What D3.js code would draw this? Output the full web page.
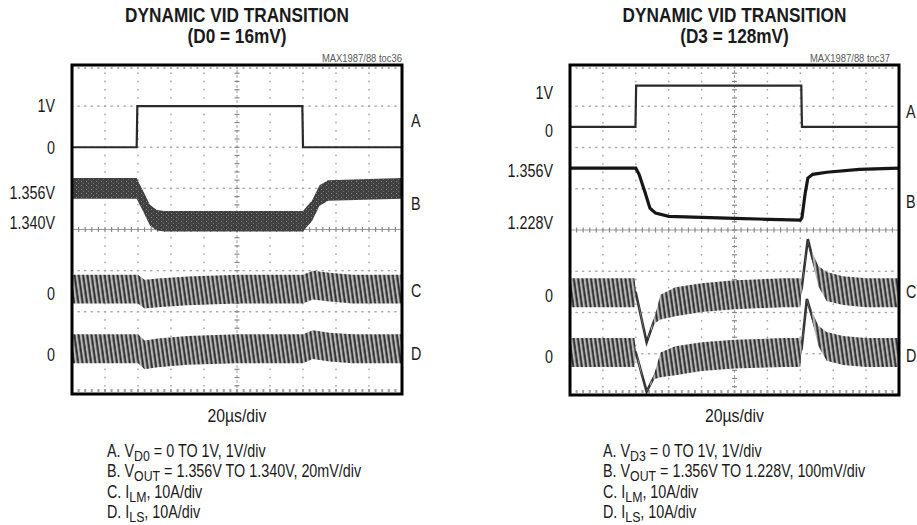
<!DOCTYPE html>
<html><head><meta charset="utf-8">
<script src="https://cdn.jsdelivr.net/npm/d3@7/dist/d3.min.js"></script>
<style>
body{margin:0;background:#fff;}
svg{display:block;}
text{font-family:"Liberation Sans Narrow","Arial Narrow","Liberation Sans",Arial,sans-serif;fill:#1a1a1a;}
</style></head><body>
<svg id="chart" width="917" height="525"></svg>
<script>
// ---------------- DATA ----------------
const titleLine1 = "DYNAMIC VID TRANSITION";
const leftTitle2 = "(D0 = 16mV)";
const rightTitle2 = "(D3 = 128mV)";
const leftToc = "MAX1987/88 toc36";
const rightToc = "MAX1987/88 toc37";
const timebase = "20\u00B5s/div";

// Trace A: [time (div), volts]  (1V/div)
const leftA  = [[0,0],[1.96,0],[1.98,1],[6.98,1],[7.0,0],[10,0]];
const rightA = [[0,0],[1.99,0],[2.01,1],[7.03,1],[7.05,0],[10,0]];

// Trace B: [time (div), mV relative to 1.356V]
const leftB  = [[0,0],[1.96,0],[2.05,-3],[2.15,-6],[2.36,-13],[2.57,-15.5],[2.8,-16],[7.0,-16],[7.1,-14],[7.27,-11],[7.5,-3.5],[7.76,-1],[10,0]];
const rightB = [[0,0],[2.0,0],[2.1,-15],[2.27,-56],[2.43,-97],[2.6,-109],[3,-117],[5,-122],[7.0,-126],[7.05,-120],[7.15,-60],[7.23,-24],[7.38,-15],[7.8,-10],[8.8,-3],[10,0]];

// Traces C, D: [time (div), mean current (A), ripple peak-to-peak (A)]  (10A/div)
const leftC = [[0,0,7],[2.0,0,7],[2.2,-1.2,7],[2.6,-0.9,7],[3.5,-0.4,7],[5,0,7],[7.0,0,7],[7.3,1.0,7],[7.8,0.5,7],[8.5,0,7],[10,0,7]];
const leftD = [[0,0,7],[2.0,0,7],[2.2,-1.5,7],[2.6,-1.0,7],[3.5,-0.4,7],[5,0,7],[7.0,0,7],[7.3,1.0,7],[7.8,0.4,7],[8.5,0,7],[10,0,7]];
const rightC = [[0,0,7],[1.96,0,7],[2.0,0,1],[2.33,-12,0],[2.55,-7,1],[2.75,-3.5,6],[3.2,-2.2,7],[4,-1.2,7],[5,-0.5,7],[6.5,0,7],[7.0,0,7],[7.04,1,1],[7.23,13,0],[7.35,9,2],[7.55,4,5],[7.8,1.5,7],[8.3,0.5,7],[9,0,7],[10,0,7]];
const rightD = [[0,0,7],[1.96,0,7],[2.0,0,1],[2.33,-9.5,0],[2.55,-6,1],[2.75,-3,6],[3.2,-2,7],[4,-1,7],[5,-0.4,7],[6.5,0,7],[7.0,0,7],[7.04,1,1],[7.2,13,0],[7.35,9,2],[7.55,4,5],[7.8,1.5,7],[8.3,0.5,7],[9,0,7],[10,0,7]];

// Axis labels: [text, level in divisions from centre]
const leftYLabels  = [["1V",3],["0",2],["1.356V",0.89],["1.340V",0.16],["0",-1.57],["0",-3.05]];
const rightYLabels = [["1V",3.32],["0",2.4],["1.356V",1.43],["1.228V",0.18],["0",-1.6],["0",-3.08]];
const leftChLabels  = [["A",2.64],["B",0.62],["C",-1.5],["D",-3.03]];
const rightChLabels = [["A",2.88],["B",0.68],["C",-1.5],["D",-3.05]];

// Legend lines: [prefix, subscript, suffix]
const leftLegend = [["A. V","D0"," = 0 TO 1V, 1V/div"],["B. V","OUT"," = 1.356V TO 1.340V, 20mV/div"],["C. I","LM",", 10A/div"],["D. I","LS",", 10A/div"]];
const rightLegend = [["A. V","D3"," = 0 TO 1V, 1V/div"],["B. V","OUT"," = 1.356V TO 1.228V, 100mV/div"],["C. I","LM",", 10A/div"],["D. I","LS",", 10A/div"]];

// ---------------- LAYOUT ----------------
const NARROW = 0.82;
const panels = [
  {id:"L", x0:72, x1:402, y0:65, y1:394, title2:leftTitle2, toc:leftToc, tocX:402,
   A:leftA, B:leftB, C:leftC, D:leftD, offA:2, offB:1, offC:-1.45, offD:-2.9,
   bPerDiv:20, bNoise:10, bThin:false, yLabels:leftYLabels, chLabels:leftChLabels,
   legend:leftLegend, legendX:107, axX:55, chX:411},
  {id:"R", x0:570, x1:899, y0:65, y1:395, title2:rightTitle2, toc:rightToc, tocX:890,
   A:rightA, B:rightB, C:rightC, D:rightD, offA:2.5, offB:1.5, offC:-1.52, offD:-2.97,
   bPerDiv:100, bNoise:0, bThin:true, yLabels:rightYLabels, chLabels:rightChLabels,
   legend:rightLegend, legendX:603, axX:553, chX:906}
];

const svg = d3.select("#chart");
const defs = svg.append("defs");
const rip = defs.append("pattern").attr("id","ripple").attr("patternUnits","userSpaceOnUse")
  .attr("width",4.3).attr("height",60).attr("patternTransform","skewX(8)");
rip.append("rect").attr("width",4.3).attr("height",60).attr("fill","#b8b8b8");
rip.append("rect").attr("x",0.4).attr("width",2.0).attr("height",60).attr("fill","#2a2a2a");
const spk = defs.append("pattern").attr("id","speckle").attr("patternUnits","userSpaceOnUse")
  .attr("width",5).attr("height",4);
spk.append("rect").attr("width",5).attr("height",4).attr("fill","#3f3f3f");
spk.append("rect").attr("x",1).attr("y",1).attr("width",1).attr("height",1).attr("fill","#8a8a8a");
spk.append("rect").attr("x",3).attr("y",3).attr("width",1).attr("height",1).attr("fill","#707070");
const blur = defs.append("filter").attr("id","soft").attr("x","-5%").attr("y","-20%").attr("width","110%").attr("height","140%");
blur.append("feGaussianBlur").attr("stdDeviation",0.7);

function ntext(sel, x, y, size, anchor, sx) {
  return sel.append("text").attr("transform",`translate(${x},${y}) scale(${sx||NARROW},1)`)
    .attr("text-anchor",anchor||"start").attr("font-size",size);
}

panels.forEach(p => {
  const g = svg.append("g");
  const x = d3.scaleLinear().domain([0,10]).range([p.x0,p.x1]);
  const y = d3.scaleLinear().domain([-4,4]).range([p.y1,p.y0]);
  const cx = (p.x0+p.x1)/2;

  defs.append("clipPath").attr("id","clip"+p.id).append("rect")
    .attr("x",p.x0).attr("y",p.y0).attr("width",p.x1-p.x0).attr("height",p.y1-p.y0);

  // graticule
  const grid = g.append("g");
  const xs = d3.range(1,10), ys = d3.range(-3,4);
  const sub = d3.range(0,50.001,1).map(i=>i/5);
  const subY = d3.range(0,40.001,1).map(i=>i/5-4);
  xs.forEach(i => {
    if (i===5) return;
    grid.selectAll(null).data(subY).join("rect")
      .attr("x",x(i)-0.7).attr("y",d=>y(d)-0.8).attr("width",1.4).attr("height",1.6).attr("fill","#a0a0a0");
  });
  ys.forEach(j => {
    if (j===0) return;
    grid.selectAll(null).data(sub).join("rect")
      .attr("x",d=>x(d)-1.2).attr("y",y(j)-0.7).attr("width",2.4).attr("height",1.4).attr("fill","#a8a8a8");
  });
  grid.append("line").attr("x1",x(0)).attr("x2",x(10)).attr("y1",y(0)).attr("y2",y(0)).attr("stroke","#9a9a9a").attr("stroke-width",1);
  grid.selectAll(null).data(sub).join("line").attr("x1",d=>x(d)).attr("x2",d=>x(d))
    .attr("y1",y(0)-2.5).attr("y2",y(0)+2.5).attr("stroke","#888").attr("stroke-width",1.2);
  grid.append("line").attr("x1",x(5)).attr("x2",x(5)).attr("y1",y(4)).attr("y2",y(-4)).attr("stroke","#a0a0a0").attr("stroke-width",1).attr("stroke-dasharray","3 2");
  grid.selectAll(null).data(subY).join("line").attr("y1",d=>y(d)).attr("y2",d=>y(d))
    .attr("x1",x(5)-2.5).attr("x2",x(5)+2.5).attr("stroke","#888").attr("stroke-width",1.2);
  grid.selectAll(null).data(sub).join("rect").attr("x",d=>x(d)-1).attr("y",y(4)+2).attr("width",2).attr("height",2).attr("fill","#b0b0b0");
  grid.selectAll(null).data(sub).join("rect").attr("x",d=>x(d)-1).attr("y",y(-4)-5).attr("width",2).attr("height",3).attr("fill","#a0a0a0");

  const tr = g.append("g").attr("clip-path",`url(#clip${p.id})`).append("g").attr("filter","url(#soft)");

  tr.append("path").datum(p.A)
    .attr("d", d3.line().x(d=>x(d[0])).y(d=>y(p.offA + d[1])))
    .attr("fill","none").attr("stroke","#2a2a2a").attr("stroke-width",2.2);

  if (p.bThin) {
    tr.append("path").datum(p.B)
      .attr("d", d3.line().x(d=>x(d[0])).y(d=>y(p.offB + d[1]/p.bPerDiv)))
      .attr("fill","none").attr("stroke","#151515").attr("stroke-width",3.2);
  } else {
    tr.append("path").datum(p.B)
      .attr("d", d3.area().x(d=>x(d[0]))
        .y0(d=>y(p.offB + (d[1]-p.bNoise/2)/p.bPerDiv))
        .y1(d=>y(p.offB + (d[1]+p.bNoise/2)/p.bPerDiv)))
      .attr("fill","url(#speckle)");
  }

  [[p.C,p.offC],[p.D,p.offD]].forEach(([data,off]) => {
    tr.append("path").datum(data)
      .attr("d", d3.line().x(d=>x(d[0])).y(d=>y(off + d[1]/10)))
      .attr("fill","none").attr("stroke","#333").attr("stroke-width",2.6);
    tr.append("path").datum(data)
      .attr("d", d3.area().x(d=>x(d[0]))
        .y0(d=>y(off + (d[1]-d[2]/2)/10))
        .y1(d=>y(off + (d[1]+d[2]/2)/10)))
      .attr("fill","url(#ripple)");
  });

  g.append("rect").attr("x",p.x0).attr("y",p.y0).attr("width",p.x1-p.x0).attr("height",p.y1-p.y0)
    .attr("fill","none").attr("stroke","#000").attr("stroke-width",3);

  // titles
  ntext(g, cx, 21.5, 20.5, "middle", 0.84).attr("font-weight","bold").text(titleLine1);
  ntext(g, cx, 43, 20.5, "middle", 0.84).attr("font-weight","bold").text(p.title2);
  ntext(g, p.tocX, 61.5, 11.5, "end").style("fill","#555").text(p.toc);

  // axis labels
  g.selectAll(null).data(p.yLabels).join("text")
    .attr("transform",d=>`translate(${p.axX},${y(d[1])+6.3}) scale(${NARROW},1)`)
    .attr("text-anchor","end").attr("font-size",17.5).text(d=>d[0]);
  g.selectAll(null).data(p.chLabels).join("text")
    .attr("transform",d=>`translate(${p.chX},${y(d[1])+6.3}) scale(${NARROW},1)`)
    .attr("font-size",17.5).text(d=>d[0]);

  ntext(g, cx, 422, 17.5, "middle", 0.9).text(timebase);

  p.legend.forEach((l,i) => {
    const t = ntext(g, p.legendX, 457+i*20.3, 17.5, "start");
    t.append("tspan").text(l[0]);
    t.append("tspan").attr("dy",4).attr("font-size",15).text(l[1]);
    t.append("tspan").attr("dy",-4).text(l[2]);
  });
});
</script></body></html>
